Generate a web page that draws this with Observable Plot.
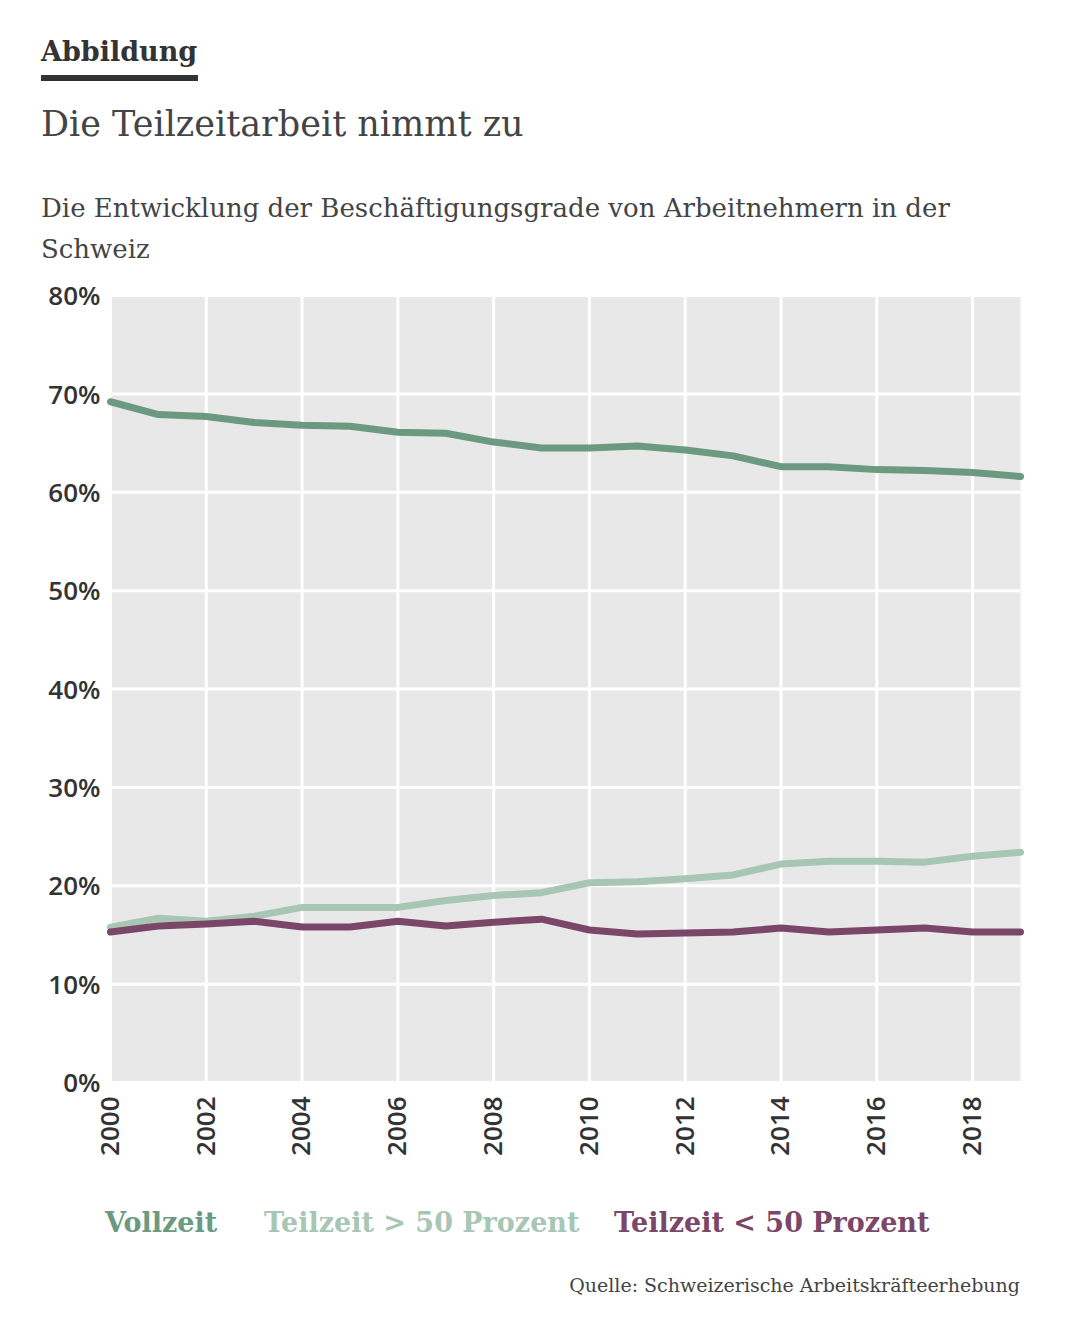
<!DOCTYPE html>
<html><head><meta charset="utf-8">
<script src="https://cdn.jsdelivr.net/npm/d3@7"></script>
<script src="https://cdn.jsdelivr.net/npm/@observablehq/plot@0.6"></script>
<style>
body{margin:0;width:1066px;height:1336px;background:#fff;position:relative;font-family:"DejaVu Serif",serif;color:#333}
.abs{position:absolute}
#kicker{left:41px;top:36px;font-size:27px;font-weight:bold;border-bottom:6px solid #333;padding-bottom:8px;width:157px}
#title{left:41px;top:104px;font-size:35px;font-weight:300;color:#444}
#sub{left:41px;top:188px;font-size:26px;color:#444;line-height:41px;width:960px}
#chart{left:0;top:270px}
.leg{top:1207px;font-size:27px;font-weight:600}
#src{right:46px;top:1274px;font-size:19px;color:#444}
</style></head><body>
<div id="kicker" class="abs">Abbildung</div>
<div id="title" class="abs">Die Teilzeitarbeit nimmt zu</div>
<div id="sub" class="abs">Die Entwicklung der Beschäftigungsgrade von Arbeitnehmern in der Schweiz</div>
<div id="chart" class="abs"></div>
<div class="abs leg" style="left:105px;color:#6b9a80">Vollzeit</div>
<div class="abs leg" style="left:264px;color:#a8c6b4">Teilzeit &gt; 50 Prozent</div>
<div class="abs leg" style="left:614px;color:#7a4769">Teilzeit &lt; 50 Prozent</div>
<div id="src" class="abs">Quelle: Schweizerische Arbeitskräfteerhebung</div>
<script>
const years = d3.range(2000, 2020);
const vollzeit = [69.2,67.9,67.7,67.1,66.8,66.7,66.1,66.0,65.1,64.5,64.5,64.7,64.3,63.7,62.6,62.6,62.3,62.2,62.0,61.6];
const tzUeber50 = [15.8,16.7,16.4,16.9,17.8,17.8,17.8,18.5,19.0,19.3,20.3,20.4,20.7,21.1,22.2,22.5,22.5,22.4,23.0,23.4];
const tzUnter50 = [15.3,15.9,16.1,16.4,15.8,15.8,16.4,15.9,16.3,16.6,15.5,15.1,15.2,15.3,15.7,15.3,15.5,15.7,15.3,15.3];
const series = ["Vollzeit","Teilzeit > 50 Prozent","Teilzeit < 50 Prozent"];
const colors = ["#6b9a80","#a8c6b4","#7a4769"];
const yTicks = [0,10,20,30,40,50,60,70,80];
const xTicks = d3.range(2000, 2020, 2);
const data = [];
[vollzeit,tzUeber50,tzUnter50].forEach((arr,i)=>arr.forEach((v,j)=>data.push({year:years[j],value:v,s:series[i]})));
const plot = Plot.plot({
  width:1066, height:910,
  marginLeft:110, marginRight:46, marginTop:25, marginBottom:98,
  style:{fontFamily:"'Open Sans',sans-serif", fontSize:"26px", color:"#333", fontWeight:"600", overflow:"visible"},
  x:{domain:[2000,2019], ticks:xTicks, tickFormat:d=>String(d), tickRotate:-90, tickSize:0, tickPadding:14, label:null},
  y:{domain:[0,80], ticks:yTicks, tickFormat:d=>d+"%", tickSize:0, tickPadding:10, label:null},
  color:{domain:series, range:colors},
  marks:[
    Plot.frame({fill:"#e8e8e8", stroke:null}),
    Plot.gridX(xTicks,{stroke:"#fff", strokeOpacity:1, strokeWidth:3}),
    Plot.gridY(yTicks,{stroke:"#fff", strokeOpacity:1, strokeWidth:3}),
    Plot.line(data,{x:"year", y:"value", z:"s", stroke:"s", strokeWidth:7, strokeLinejoin:"round"})
  ]
});
plot.querySelectorAll('[aria-label="y-axis tick label"] text').forEach(t=>t.setAttribute("dy","0.05em"));
document.getElementById("chart").appendChild(plot);
</script>
</body></html>
